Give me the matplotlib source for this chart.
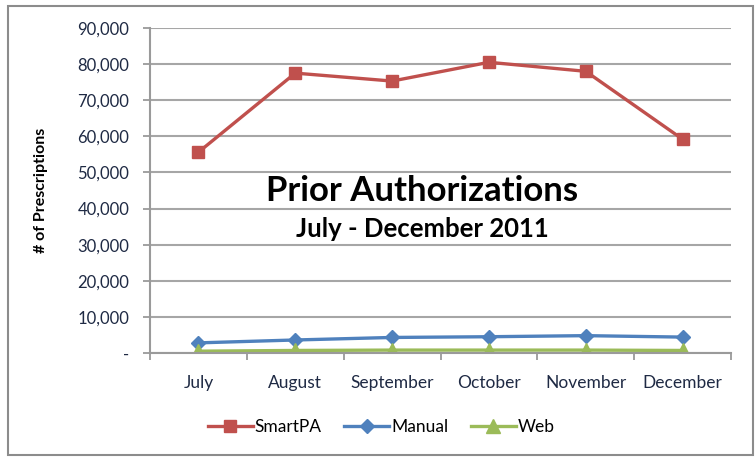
import matplotlib.pyplot as plt
from matplotlib.patches import Rectangle

plt.rcParams['font.family'] = ['Lato', 'DejaVu Sans']

months = ["July", "August", "September", "October", "November", "December"]
smartpa = [55600, 77500, 75300, 80500, 78000, 59200]
manual = [2800, 3600, 4300, 4500, 4800, 4400]
web = [500, 700, 800, 800, 800, 700]

yticks = list(range(0, 90001, 10000))
ylabels = ["-"] + ["{:,}".format(v) for v in yticks[1:]]

fig = plt.figure(figsize=(7.55, 4.58), dpi=100)
ax = fig.add_axes([0.1987, 0.2293, 0.7695, 0.7096])

x = list(range(len(months)))
ax.plot(x, smartpa, color='#C0504D', lw=2.4, marker='s', ms=9, label='SmartPA')
ax.plot(x, manual, color='#4F81BD', lw=2.4, marker='D', ms=7, label='Manual')
ax.plot(x, web, color='#9BBB59', lw=2.4, marker='^', ms=10, label='Web')

ax.set_xlim(-0.5, len(months) - 0.5)
ax.set_ylim(0, 90000)
ax.set_yticks(yticks)
ax.set_yticklabels(ylabels)
ax.set_xticks(x)
ax.set_xticklabels(months)
ax.set_xticks([i - 0.5 for i in range(len(months) + 1)], minor=True)
ax.tick_params(axis='x', which='major', length=0, pad=16, labelsize=12.5, labelcolor='#1f2a44')
ax.tick_params(axis='x', which='minor', length=5, width=1.3, color='#9a9a9a', direction='out')
ax.tick_params(axis='y', length=5, width=1.3, color='#9a9a9a', pad=10, labelsize=12, labelcolor='#1f2a44')

ax.grid(axis='y', color='#a6a6a6', lw=1.5)
ax.set_axisbelow(True)
for s in ['top', 'right']:
    ax.spines[s].set_visible(False)
for s in ['left', 'bottom']:
    ax.spines[s].set_color('#9a9a9a')
    ax.spines[s].set_linewidth(1.5)

ax.set_ylabel('# of Prescriptions', fontsize=11.5, fontweight='bold')
ax.yaxis.set_label_coords(-0.176, 0.50)

fig.text(0.559, 0.583, 'Prior Authorizations', ha='center', va='center',
         fontsize=25, fontweight='bold')
fig.text(0.559, 0.500, 'July - December 2011', ha='center', va='center',
         fontsize=18.5, fontweight='bold')

fig.legend(loc='center', bbox_to_anchor=(0.505, 0.068), ncol=3, frameon=False,
           fontsize=12.5, handlelength=2.6, columnspacing=1.3, handletextpad=0.1)

fig.patches.append(Rectangle((0.010, 0.007), 0.987, 0.98, transform=fig.transFigure,
                             fill=False, edgecolor='#8c8c8c', lw=1.5))

fig.savefig('out.png', dpi=100)
